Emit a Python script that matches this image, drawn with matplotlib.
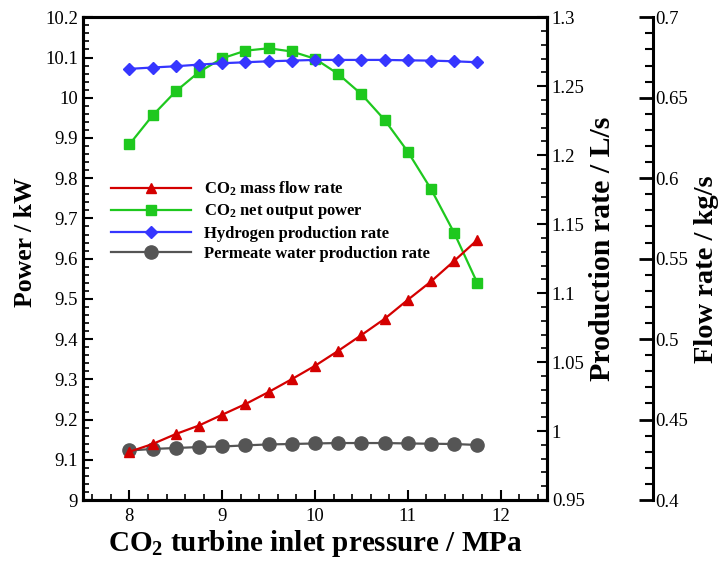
import matplotlib
matplotlib.use("Agg")
import matplotlib.pyplot as plt
from matplotlib.ticker import MultipleLocator, FuncFormatter

plt.rcParams['font.family'] = ['Liberation Serif', 'DejaVu Serif']
plt.rcParams['mathtext.fontset'] = 'custom'
plt.rcParams['mathtext.rm'] = 'Liberation Serif:bold'
plt.rcParams['mathtext.it'] = 'Liberation Serif:bold'
plt.rcParams['mathtext.bf'] = 'Liberation Serif:bold'
plt.rcParams['mathtext.default'] = 'rm'

pressure = [8.0, 8.25, 8.5, 8.75, 9.0, 9.25, 9.5, 9.75, 10.0, 10.25, 10.5, 10.75, 11.0, 11.25, 11.5, 11.75]
net_power = [9.884, 9.956, 10.016, 10.064, 10.098, 10.117, 10.123, 10.115, 10.097, 10.059,
             10.009, 9.945, 9.866, 9.773, 9.664, 9.539]
hydrogen_rate = [1.2626, 1.2636, 1.2645, 1.2657, 1.2667, 1.2674, 1.2681, 1.2686, 1.2691, 1.2691,
                 1.2691, 1.2691, 1.2688, 1.2686, 1.2681, 1.2674]
water_rate = [0.9859, 0.9870, 0.9877, 0.9884, 0.9888, 0.9896, 0.9903, 0.9906, 0.9910, 0.9913,
              0.9913, 0.9913, 0.9910, 0.9908, 0.9906, 0.9899]
co2_flow = [0.4300, 0.4348, 0.4410, 0.4463, 0.4530, 0.4596, 0.4671, 0.4751, 0.4834, 0.4927,
            0.5025, 0.5126, 0.5244, 0.5358, 0.5486, 0.5617]

labels = [r'CO$_2$ mass flow rate', r'CO$_2$ net output power',
          'Hydrogen production rate', 'Permeate water production rate']

fig = plt.figure(figsize=(7.22, 5.68), dpi=100)
ax = fig.add_axes([83/722, 1-500/568, (547-83)/722, (500-17.3)/568])
ax2 = ax.twinx()
ax3 = ax.twinx()
ax3.spines['right'].set_position(('axes', 1.228))

red, green, blue, grey = '#d40000', '#1ec81e', '#3636ff', '#555555'
lw = 1.6
l1, = ax3.plot(pressure, co2_flow, color=red, lw=lw, marker='^', ms=7.5, label=labels[0], zorder=3)
l2, = ax.plot(pressure, net_power, color=green, lw=lw, marker='s', ms=7.5, label=labels[1], zorder=3)
l3, = ax2.plot(pressure, hydrogen_rate, color=blue, lw=lw, marker='D', ms=6.5, label=labels[2], zorder=3)
l4, = ax2.plot(pressure, water_rate, color=grey, lw=lw, marker='o', ms=9.5, label=labels[3], zorder=4)

ax.set_xlim(7.5, 12.5)
ax.set_ylim(9.0, 10.2)
ax2.set_ylim(0.95, 1.3)
ax3.set_ylim(0.4, 0.7)

fmt = FuncFormatter(lambda v, p: ('%.2f' % v).rstrip('0').rstrip('.'))
ax.xaxis.set_major_locator(MultipleLocator(1))
ax.xaxis.set_minor_locator(MultipleLocator(0.2))
ax.yaxis.set_major_locator(MultipleLocator(0.1))
ax.yaxis.set_minor_locator(MultipleLocator(0.02))
ax2.yaxis.set_major_locator(MultipleLocator(0.05))
ax2.yaxis.set_minor_locator(MultipleLocator(0.01))
ax3.yaxis.set_major_locator(MultipleLocator(0.05))
ax3.yaxis.set_minor_locator(MultipleLocator(0.01))
for a in (ax, ax2, ax3):
    a.yaxis.set_major_formatter(fmt)
ax.xaxis.set_major_formatter(fmt)

tfs = 13.5
ax.tick_params(axis='both', which='major', direction='in', length=7, width=1.5, labelsize=tfs, top=False, right=False)
ax.tick_params(axis='both', which='minor', direction='in', length=4, width=1.2, top=False, right=False)
ax.tick_params(axis='x', pad=6)
ax2.tick_params(axis='y', which='major', direction='in', length=7, width=1.5, labelsize=tfs)
ax2.tick_params(axis='y', which='minor', direction='in', length=4, width=1.2)
ax3.tick_params(axis='y', which='major', direction='in', length=10, width=2, labelsize=tfs, pad=2)
ax3.tick_params(axis='y', which='minor', direction='in', length=6, width=1.5)

for a in (ax, ax2):
    for s in a.spines.values():
        s.set_linewidth(2.2)
for name, s in ax3.spines.items():
    if name == 'right':
        s.set_linewidth(2.2)
    else:
        s.set_visible(False)

ax.set_xlabel(r'CO$_2$ turbine inlet pressure / MPa', fontsize=21, fontweight='bold', labelpad=2)
ax.set_ylabel('Power / kW', fontsize=18.5, fontweight='bold', labelpad=6)
ax2.set_ylabel('Production rate / L/s', fontsize=21.5, fontweight='bold', labelpad=3)
ax3.set_ylabel('Flow rate / kg/s', fontsize=20.5, fontweight='bold', labelpad=4)
ax.yaxis.label.set_y(0.534)
ax2.yaxis.label.set_y(0.521)
ax3.yaxis.label.set_y(0.479)

leg = ax.legend(handles=[l1, l2, l3, l4], loc='upper left', bbox_to_anchor=(0.045, 0.677),
                frameon=False, prop={'size': 12, 'weight': 'bold'}, handlelength=4.8,
                handletextpad=0.8, labelspacing=0.25, borderaxespad=0)

fig.savefig('out.png', dpi=100)
